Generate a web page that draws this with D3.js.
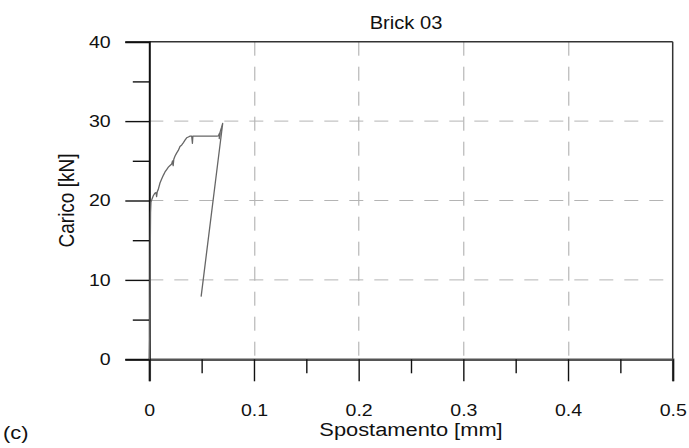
<!DOCTYPE html>
<html>
<head>
<meta charset="utf-8">
<script src="https://cdn.jsdelivr.net/npm/d3@7"></script>
<style>
  body { margin: 0; background: #fff; }
  svg text { font-family: "Liberation Sans", Arial, sans-serif; fill: #111; }
</style>
</head>
<body>
<svg id="chart" width="689" height="448"></svg>
<script>
// Labels
const chartTitle = "Brick 03";
const xLabel = "Spostamento [mm]";
const yLabel = "Carico [kN]";
const panelTag = "(c)";

// Ticks and grid
const xTicks = [0, 0.1, 0.2, 0.3, 0.4, 0.5];
const xMinorTicks = [0.05, 0.15, 0.25, 0.35, 0.45];
const yTicks = [0, 10, 20, 30, 40];
const yMinorTicks = [5, 15, 25, 35];
const xGrid = [0.1, 0.2, 0.3, 0.4];
const yGrid = [10, 20, 30];

// Load–displacement record (mm, kN)
const displacement = [0, 0.0004, 0.0006, 0.0008, 0.001, 0.0012, 0.0016, 0.0026, 0.0038, 0.0052,
  0.0064, 0.007, 0.0076, 0.0086, 0.0102, 0.0118, 0.0135, 0.015, 0.0166, 0.0182, 0.0198, 0.0214,
  0.0222, 0.0228, 0.0234, 0.0246, 0.0262, 0.0277, 0.0293, 0.031, 0.0326, 0.0341, 0.0357, 0.0373,
  0.039, 0.0405, 0.0412, 0.0416, 0.042, 0.048, 0.054, 0.06, 0.0644, 0.066, 0.0672, 0.0668,
  0.0678, 0.0690, 0.0701, 0.0495];
const load = [0, 3, 7, 11, 15, 18.5, 19.8, 20.2, 20.6, 20.9,
  21.0, 20.5, 21.1, 21.4, 22.2, 22.7, 23.2, 23.6, 23.9, 24.2, 24.4, 24.6,
  25.0, 24.4, 25.2, 25.6, 26.0, 26.3, 26.8, 27.0, 27.3, 27.6, 27.9, 28.0,
  28.1, 28.1, 27.2, 28.1, 28.1, 28.1, 28.1, 28.1, 28.1, 28.15, 28.5, 27.8,
  28.7, 29.2, 29.7, 7.9];

const W = 689, H = 448;
const margin = { top: 41.7, right: 16.3, bottom: 88.7, left: 149.3 };
const innerW = W - margin.left - margin.right;
const innerH = H - margin.top - margin.bottom;
const stretchX = 1.15;

const svg = d3.select("#chart");
svg.append("rect").attr("width", W).attr("height", H).attr("fill", "#fff");

const x = d3.scaleLinear().domain([0, 0.5]).range([0, innerW]);
const y = d3.scaleLinear().domain([0, 40]).range([innerH, 0]);

const g = svg.append("g").attr("transform", `translate(${margin.left},${margin.top})`);

// Dashed grid
g.append("g").selectAll("line").data(xGrid).join("line")
  .attr("x1", d => Math.round(x(d)) + 0.5).attr("x2", d => Math.round(x(d)) + 0.5)
  .attr("y1", 0).attr("y2", innerH)
  .attr("stroke", "#a8a8a8").attr("stroke-width", 1).attr("stroke-dasharray", "14,11");
g.append("g").selectAll("line").data(yGrid).join("line")
  .attr("y1", d => y(d)).attr("y2", d => y(d))
  .attr("x1", 0).attr("x2", innerW)
  .attr("stroke", "#b4b4b4").attr("stroke-width", 1).attr("stroke-dasharray", "14,11");

// Frame: top and right edges
g.append("line").attr("x1", 0).attr("x2", innerW).attr("y1", 0).attr("y2", 0)
  .attr("stroke", "#333").attr("stroke-width", 1.5);
g.append("line").attr("x1", innerW).attr("x2", innerW).attr("y1", 0).attr("y2", innerH)
  .attr("stroke", "#333").attr("stroke-width", 1.5);

// Stretch text horizontally about its anchor point
function stretch(sel) {
  sel.each(function () {
    const t = d3.select(this);
    const ax = +t.attr("x") || 0;
    t.attr("transform", `translate(${ax},0) scale(${stretchX},1) translate(${-ax},0)`);
  });
}

// Bottom axis: major ticks with labels
const xAxis = g.append("g").attr("transform", `translate(0,${innerH})`)
  .call(d3.axisBottom(x).tickValues(xTicks).tickSize(22).tickPadding(23)
    .tickFormat(d => d === 0 ? "0" : d3.format(".1f")(d)));
xAxis.select(".domain").attr("stroke", "#555").attr("stroke-width", 2.5);
xAxis.selectAll(".tick line").attr("stroke", "#111").attr("stroke-width", 1.4);
xAxis.selectAll(".tick text").attr("font-size", 17).attr("font-family", "Liberation Sans, Arial, sans-serif").call(stretch);

// Bottom axis: minor ticks
const xMinor = g.append("g").attr("transform", `translate(0,${innerH})`)
  .call(d3.axisBottom(x).tickValues(xMinorTicks).tickSize(14).tickFormat(""));
xMinor.select(".domain").remove();
xMinor.selectAll(".tick line").attr("stroke", "#111").attr("stroke-width", 1.4);

// Left axis: major ticks with labels
const yAxis = g.append("g")
  .call(d3.axisLeft(y).tickValues(yTicks).tickSize(24).tickPadding(14.6).tickFormat(d3.format("d")));
yAxis.select(".domain").attr("stroke", "#111").attr("stroke-width", 2);
yAxis.selectAll(".tick line").attr("stroke", "#111").attr("stroke-width", 1.4);
yAxis.selectAll(".tick text").attr("font-size", 17).attr("font-family", "Liberation Sans, Arial, sans-serif").call(stretch);

// Left axis: minor ticks
const yMinor = g.append("g")
  .call(d3.axisLeft(y).tickValues(yMinorTicks).tickSize(16.5).tickFormat(""));
yMinor.select(".domain").remove();
yMinor.selectAll(".tick line").attr("stroke", "#111").attr("stroke-width", 1.4);

// Load–displacement curve
const pts = displacement.map((d, i) => [d, load[i]]);
g.append("path").datum(pts)
  .attr("fill", "none").attr("stroke", "#666").attr("stroke-width", 1.3)
  .attr("stroke-linejoin", "round")
  .attr("d", d3.line().x(d => x(d[0])).y(d => y(d[1])));

// Title
svg.append("text").attr("x", 406).attr("y", 29.5).attr("text-anchor", "middle")
  .attr("font-size", 17.5).text(chartTitle).call(stretch);

// Axis titles
svg.append("text").attr("x", margin.left + innerW / 2).attr("y", 436.5).attr("text-anchor", "middle")
  .attr("font-size", 19).text(xLabel).call(stretch);
svg.append("text")
  .attr("transform", `translate(74,${margin.top + innerH / 2}) scale(${stretchX},1) rotate(-90)`)
  .attr("text-anchor", "middle").attr("font-size", 19).text(yLabel);

// Panel tag
svg.append("text").attr("x", 3).attr("y", 439)
  .attr("font-family", "Liberation Serif, 'Times New Roman', serif").attr("font-size", 19)
  .text(panelTag).call(stretch);
</script>
</body>
</html>
